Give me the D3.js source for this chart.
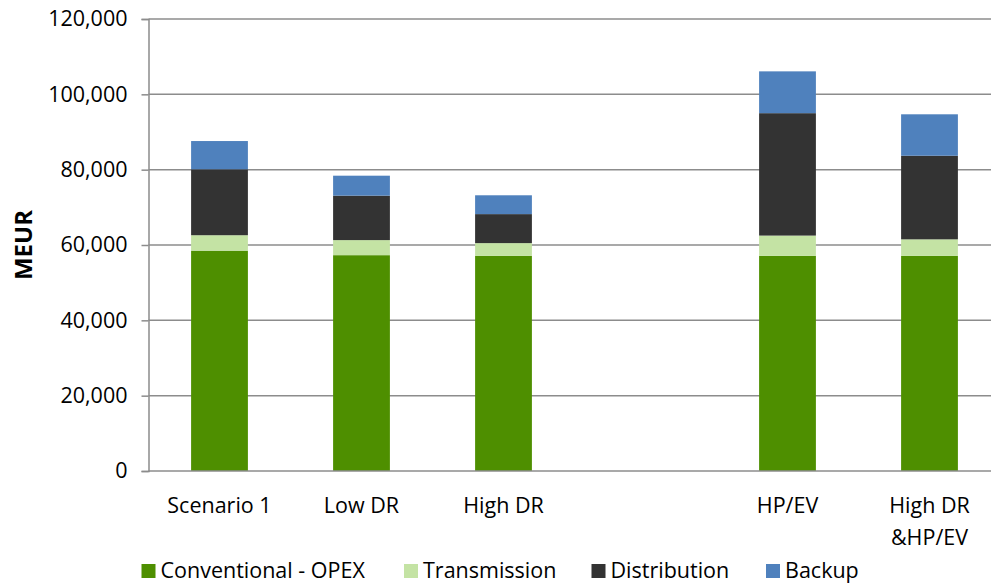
<!DOCTYPE html>
<html>
<head>
<meta charset="utf-8">
<script src="https://cdn.jsdelivr.net/npm/d3@7"></script>
<style>
  html, body { margin: 0; padding: 0; background: #ffffff; }
  svg { display: block; font-family: "Open Sans", "DejaVu Sans", sans-serif; }
</style>
</head>
<body>
<svg id="chart" width="991" height="583"></svg>
<script>
// Scenario cost breakdown (MEUR); an empty slot separates the two groups
const categories = ["Scenario 1", "Low DR", "High DR", "", "HP/EV", "High DR\n&HP/EV"];
const seriesNames = ["Conventional - OPEX", "Transmission", "Distribution", "Backup"];
const conventionalOpex = [58500, 57300, 57100, null, 57100, 57100];
const transmission     = [4100, 4000, 3400, null, 5400, 4400];
const distribution     = [17500, 11800, 7700, null, 32500, 22200];
const backup           = [7500, 5300, 5000, null, 11100, 11000];
const yTicks = [0, 20000, 40000, 60000, 80000, 100000, 120000];
const colors = ["#4e8f00", "#c4e3a4", "#333333", "#4f81bd"];

const svg = d3.select("#chart");
const x0 = 148.5, x1 = 1000.5, y0 = 471, y1 = 19;
const fontSize = 21.5;

const x = d3.scaleBand().domain(d3.range(categories.length)).range([x0, x1]).paddingInner(0.6).paddingOuter(0.3);
const y = d3.scaleLinear().domain([0, 120000]).range([y0, y1]);

// Gridlines
svg.append("g")
  .selectAll("line")
  .data(yTicks.filter(d => d > 0))
  .join("line")
  .attr("x1", x0).attr("x2", x1)
  .attr("y1", d => y(d)).attr("y2", d => y(d))
  .attr("stroke", "#8c8c8c").attr("stroke-width", 1.5);

// Stacked bars
const rows = categories.map((c, i) => ({
  i,
  "Conventional - OPEX": conventionalOpex[i] || 0,
  "Transmission": transmission[i] || 0,
  "Distribution": distribution[i] || 0,
  "Backup": backup[i] || 0
})).filter(r => conventionalOpex[r.i] != null);

const stack = d3.stack().keys(seriesNames)(rows);
svg.append("g")
  .selectAll("g")
  .data(stack)
  .join("g")
  .attr("fill", (d, k) => colors[k])
  .selectAll("rect")
  .data(d => d)
  .join("rect")
  .attr("x", d => x(d.data.i))
  .attr("width", x.bandwidth())
  .attr("y", d => y(d[1]))
  .attr("height", d => y(d[0]) - y(d[1]));

// Y axis
const yAxis = d3.axisLeft(y).tickValues(yTicks).tickSize(7).tickPadding(14)
  .tickFormat(d3.format(","));
const ya = svg.append("g").attr("transform", `translate(${x0},0)`).call(yAxis);
ya.attr("font-family", null).attr("font-size", null);
ya.select(".domain").attr("stroke", "#8c8c8c").attr("stroke-width", 1.5);
ya.selectAll(".tick line").attr("stroke", "#8c8c8c").attr("stroke-width", 1.5);
ya.selectAll(".tick text").attr("font-size", fontSize).attr("fill", "#000");

// X axis baseline
svg.append("line")
  .attr("x1", x0).attr("x2", x1).attr("y1", y0).attr("y2", y0)
  .attr("stroke", "#8c8c8c").attr("stroke-width", 1.5);

// Category labels (may wrap to two lines)
const xl = svg.append("g");
categories.forEach((c, i) => {
  if (!c) return;
  const cx = x(i) + x.bandwidth() / 2;
  const t = xl.append("text")
    .attr("x", cx)
    .attr("y", 513)
    .attr("text-anchor", "middle")
    .attr("font-size", fontSize)
    .attr("fill", "#000");
  c.split("\n").forEach((line, k) => {
    t.append("tspan").attr("x", cx).attr("dy", k ? 32 : 0).text(line);
  });
});

// Y axis title
svg.append("text")
  .attr("transform", `translate(32,${(y0 + y1) / 2}) rotate(-90)`)
  .attr("text-anchor", "middle")
  .attr("font-size", 24).attr("font-weight", "bold")
  .text("MEUR");

// Legend
const legendX = [141.5, 404, 591.5, 766];
const lg = svg.append("g");
seriesNames.forEach((name, k) => {
  lg.append("rect").attr("x", legendX[k]).attr("y", 564).attr("width", 14).attr("height", 14).attr("fill", colors[k]);
  lg.append("text").attr("x", legendX[k] + 19).attr("y", 578).attr("font-size", fontSize).attr("fill", "#000").text(name);
});
</script>
</body>
</html>
